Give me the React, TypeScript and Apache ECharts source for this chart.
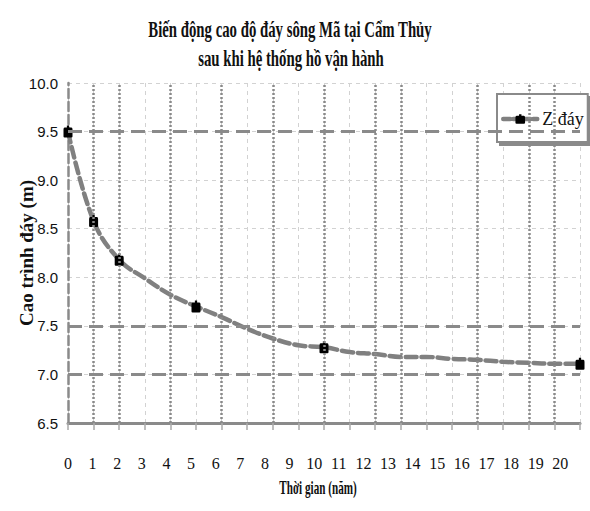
import React, { useEffect, useRef } from 'react';
import * as echarts from 'echarts';

// ---- data ----
const years = [0, 1, 2, 3, 4, 5, 6, 7, 8, 9, 10, 11, 12, 13, 14, 15, 16, 17, 18, 19, 20];
const zDay = [9.5, 8.58, 8.18, 7.99, 7.82, 7.7, 7.59, 7.47, 7.37, 7.3, 7.28, 7.23, 7.21, 7.18, 7.18, 7.16, 7.15, 7.13, 7.12, 7.11, 7.11];
const markedYears = [0, 1, 2, 5, 10, 20];
const majorDottedX = [1, 2, 4, 6, 8, 10, 12, 13, 16, 18, 19];
const majorDashedY = [9.5, 7.5, 7.0];
const seriesName = 'Z đáy';
const titleLines = ['Biến động cao độ đáy sông Mã tại Cẩm Thủy', 'sau khi hệ thống hồ vận hành'];
const xName = 'Thời gian (năm)';
const yName = 'Cao trình đáy (m)';

const MARKER = 'path://M3,0 L5,0 L5,2 L7,2 Q8,2 8,4 L8,11 Q8,12 7,12 L1,12 Q0,12 0,11 L0,4 Q0,2 1,2 L3,2 Z';

export default function App() {
  const ref = useRef<HTMLDivElement>(null);
  useEffect(() => {
    const chart = echarts.init(ref.current as HTMLDivElement, null, { renderer: 'svg' });
    const GRID = '#8a8a8a';
    const LIGHT = '#d2d2d2';
    chart.setOption({
      animation: false,
      backgroundColor: '#fff',
      grid: { left: 68, top: 83, width: 512, height: 340, outerBoundsMode: 'none', containLabel: false },
      xAxis: [
        {
          type: 'value', min: 0, max: 20, interval: 1,
          axisLabel: { show: false },
          axisLine: { show: true, onZero: false, lineStyle: { color: GRID, width: 3 } },
          axisTick: { show: true, length: 7, lineStyle: { color: '#aaa', width: 1.5 } },
          splitLine: { show: true, lineStyle: { color: LIGHT, width: 1, type: [4, 4] } },
        },
        {
          type: 'value', position: 'bottom', min: 0, max: 20.8, interval: 1,
          axisLine: { show: false }, axisTick: { show: false }, splitLine: { show: false },
          axisLabel: {
            margin: 32, fontFamily: 'Liberation Serif', fontSize: 16, color: '#111',
            showMaxLabel: false,
            formatter: (v: number) => (Number.isInteger(v) ? String(v) : ''),
          },
        },
      ],
      yAxis: {
        type: 'value', min: 6.5, max: 10, interval: 0.5,
        name: yName, nameLocation: 'middle', nameGap: 32, nameRotate: 90, nameMoveOverlap: false,
        nameTextStyle: { fontFamily: 'Liberation Serif', fontWeight: 'bold', fontSize: 19, color: '#111' },
        axisLine: { show: true, lineStyle: { color: GRID, width: 2.5, type: [9, 4] } },
        axisTick: { show: false },
        axisLabel: {
          margin: 10, fontFamily: "'Liberation Sans Narrow', 'Liberation Sans', sans-serif", fontSize: 15, color: '#111',
          formatter: (v: number) => v.toFixed(1),
        },
        splitLine: { show: true, lineStyle: { color: LIGHT, width: 1, type: [4, 4] } },
      },
      legend: {
        data: [seriesName], left: 497, top: 94, orient: 'vertical',
        padding: [16, 4, 14, 4], itemWidth: 34, itemHeight: 12,
        backgroundColor: '#fff', borderColor: GRID, borderWidth: 2,
        shadowColor: GRID, shadowBlur: 1, shadowOffsetX: 3, shadowOffsetY: 3,
        lineStyle: { color: '#808080', width: 4.5, type: [7, 3] },
        itemStyle: { color: '#000', borderWidth: 0 },
        textStyle: { fontFamily: 'Liberation Serif', fontSize: 18, color: '#111' },
      },
      graphic: [
        {
          type: 'text', x: 290, y: 29, scaleX: 0.616, silent: true,
          style: { text: titleLines[0], fontSize: 24, fontWeight: 'bold', fontFamily: 'Liberation Serif', align: 'center', verticalAlign: 'middle', fill: '#111' },
        },
        {
          type: 'text', x: 291, y: 58, scaleX: 0.616, silent: true,
          style: { text: titleLines[1], fontSize: 24, fontWeight: 'bold', fontFamily: 'Liberation Serif', align: 'center', verticalAlign: 'middle', fill: '#111' },
        },
        {
          type: 'text', x: 318, y: 488, scaleX: 0.62, silent: true,
          style: { text: xName, fontSize: 18, fontWeight: 'bold', fontFamily: 'Liberation Serif', align: 'center', verticalAlign: 'middle', fill: '#111' },
        },
      ],
      series: [
        {
          type: 'line', data: [], silent: true, z: 1, xAxisIndex: 0,
          markLine: {
            silent: true, symbol: 'none', label: { show: false }, animation: false,
            emphasis: { disabled: true },
            data: [
              ...majorDottedX.map((v) => ({ xAxis: v, lineStyle: { type: [2, 2], width: 2.5, color: GRID } })),
              ...majorDashedY.map((v) => ({ yAxis: v, lineStyle: { type: [14, 7], width: 3, color: GRID } })),
            ],
          },
        },
        {
          name: seriesName, type: 'line', xAxisIndex: 0, z: 3,
          data: years.map((x, i) => (markedYears.includes(x) ? [x, zDay[i]] : { value: [x, zDay[i]], symbol: 'none' })),
          smooth: 0.4, symbol: MARKER, symbolSize: [9, 12], showAllSymbol: true,
          lineStyle: { color: '#808080', width: 4.5, type: [11, 5], cap: 'round' },
          itemStyle: { color: '#000', borderWidth: 0 },
          emphasis: { disabled: true },
        },
      ],
    });
    return () => chart.dispose();
  }, []);
  return <div ref={ref} style={{ position: 'fixed', left: 0, top: 0, width: 590, height: 511, background: '#fff' }} />;
}
